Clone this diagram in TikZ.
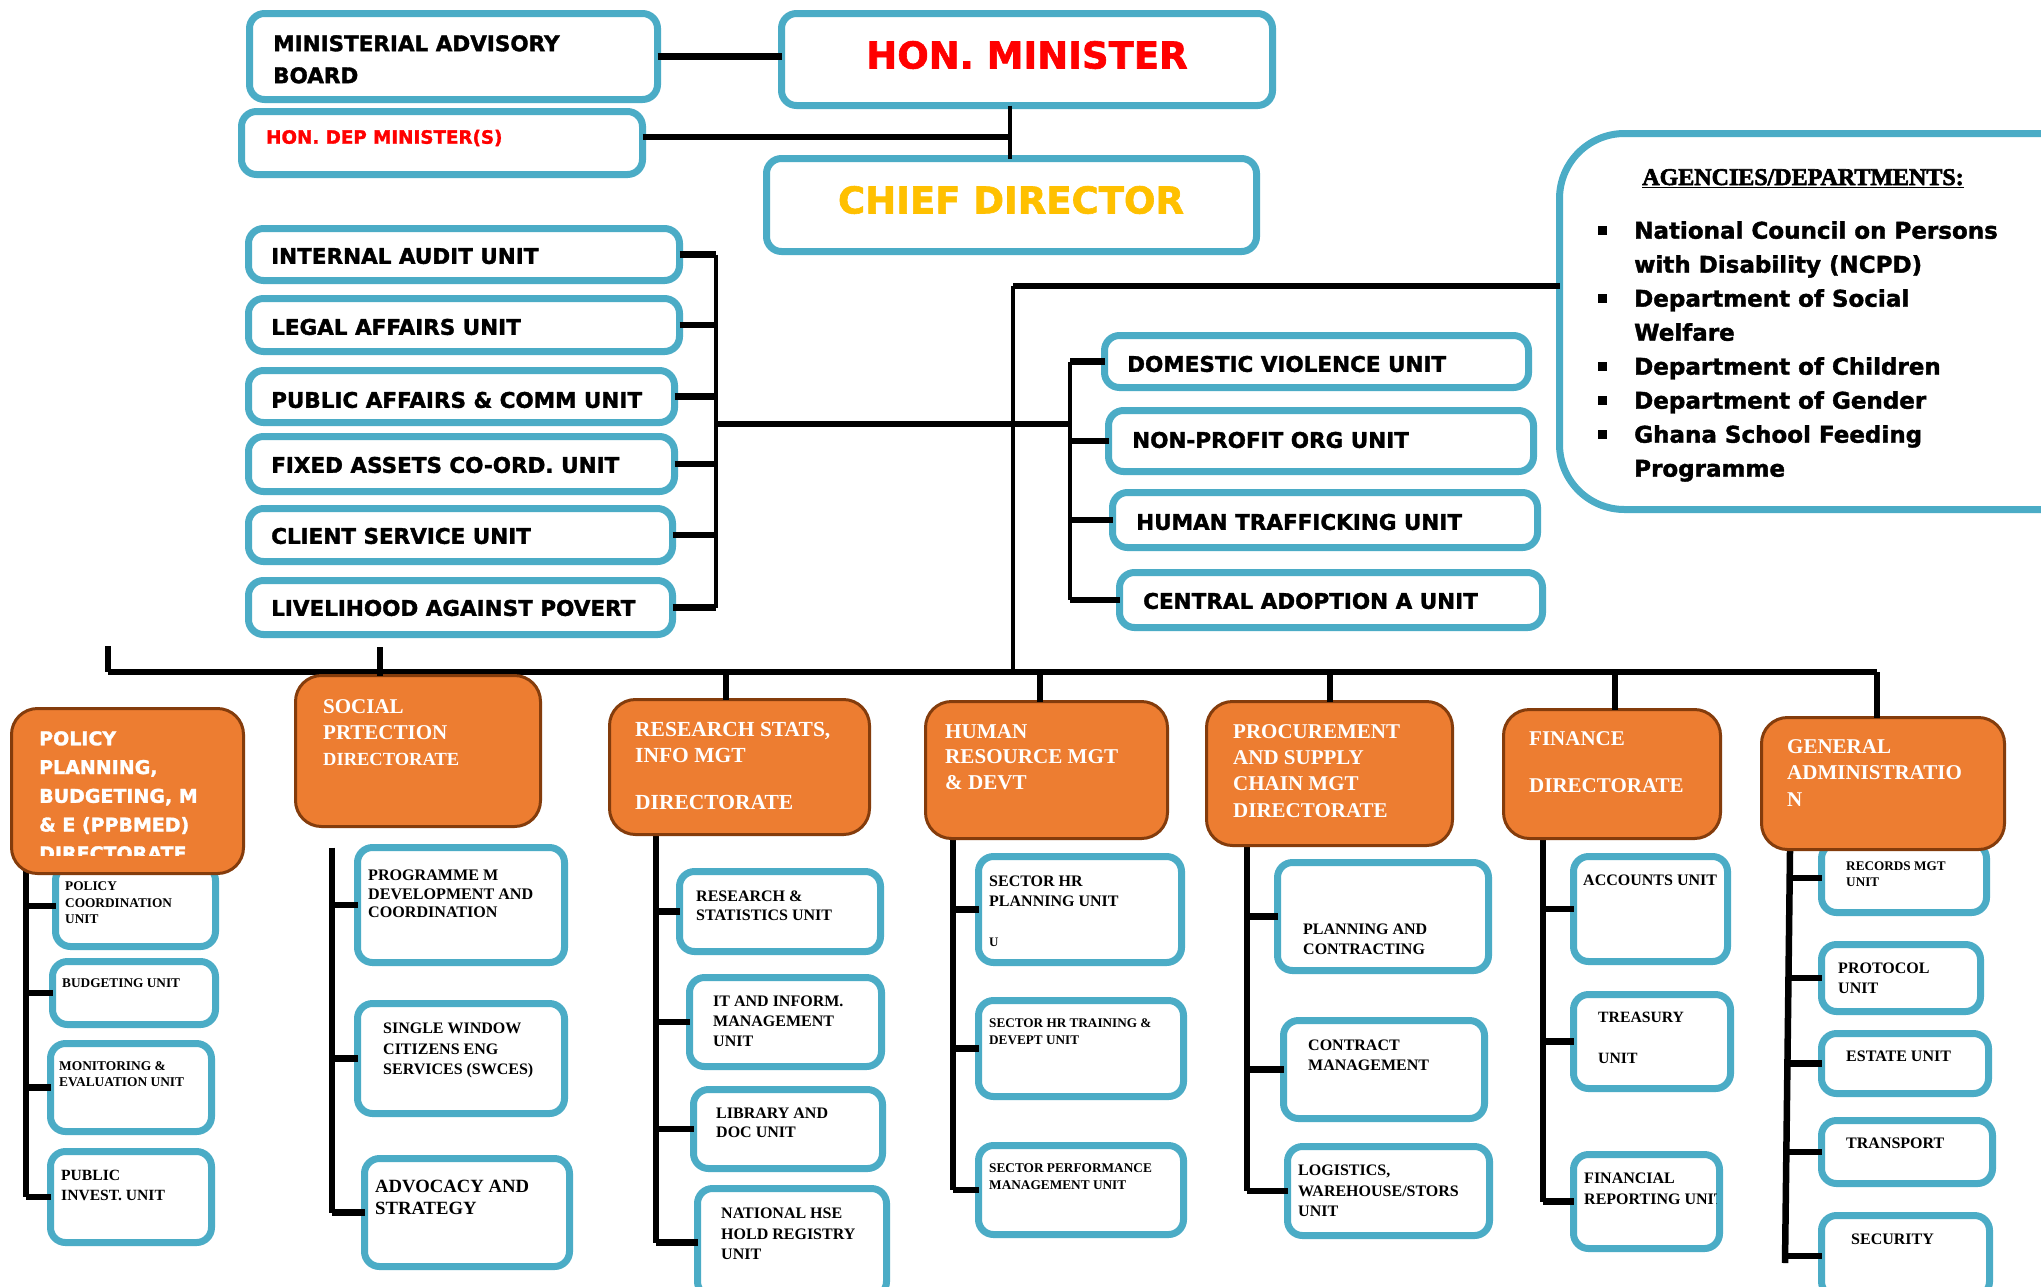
\documentclass[tikz,border=0pt]{standalone}
\usepackage{fontspec}
\setmainfont{Liberation Serif}
\newfontfamily\djb{DejaVu Sans Bold}[FakeBold=1.6]
\newfontfamily\serb{Liberation Serif Bold}[FakeBold=2.5]
\definecolor{cblue}{HTML}{4BACC6}
\definecolor{corg}{HTML}{ED7D31}
\definecolor{cbrn}{HTML}{843C0C}
\definecolor{cgold}{HTML}{FFC000}
\newcommand\fsz[2]{\fontsize{#1}{#2}\selectfont}
\newcommand\ubx[5]{\node[ubox,minimum width={#4-#2-7},minimum height={#5-#3-7},anchor=north west] (#1) at ({#2+3.5},{#3+3.5}) {};}
\newcommand\obx[5]{\node[obox,minimum width={#4-#2-3},minimum height={#5-#3-3},anchor=north west] (#1) at ({#2+1.5},{#3+1.5}) {};}
\newcommand\bul{\leavevmode\llap{\rule[4pt]{9pt}{9pt}\hspace{27pt}}}
\begin{document}
\begin{tikzpicture}[x=1pt,y=-1pt,
 ubox/.style={draw=cblue,line width=7pt,rounded corners=15pt,fill=white,inner sep=0pt,outer sep=0pt},
 obox/.style={draw=cbrn,line width=3pt,rounded corners=26pt,fill=corg,inner sep=0pt,outer sep=0pt},
 ln/.style={line width=6.5pt,black},
 ln2/.style={line width=4.5pt,black},
 tx/.style={anchor=north west,inner sep=0pt,align=left},
 bt/.style={anchor=base west,inner sep=0pt},
 hv/.style={bt,font=\djb\fsz{21.5}{26}},
 ot/.style={tx,text=white,font=\bfseries\fsz{21}{26}},
 ut/.style={tx,font=\bfseries\fsz{16}{20}}]
\useasboundingbox (0,0) rectangle (2041,1286);
\clip (0,0) rectangle (2041,1286);
\fill[white] (0,0) rectangle (2041,1286);

% ---------- boxes (top) ----------
\ubx{mab}{246}{10}{661}{103}
\ubx{hm}{778}{10}{1276}{109}
\ubx{dep}{238}{108}{646}{178}
\ubx{cd}{763}{155}{1260}{255}
% left units
\ubx{iau}{245}{225}{683}{284}
\ubx{lau}{245}{295}{683}{355}
\ubx{pac}{245}{367}{678}{426}
\ubx{fac}{245}{433}{678}{495}
\ubx{csu}{245}{505}{676}{565}
\ubx{lhp}{245}{577}{676}{638}
% right units
\ubx{dvu}{1101}{332}{1532}{391}
\ubx{npo}{1105}{407}{1537}{475}
\ubx{htu}{1109}{489}{1541}{551}
\ubx{cau}{1116}{569}{1546}{631}
% agencies
\node[ubox,rounded corners=65pt,anchor=north west,minimum width=560,minimum height=376] (ag) at (1559.5,133.5) {};

% ---------- connectors ----------
\coordinate (jm) at (1010,137);
\draw[ln] (mab.east) -- (mab.east -| hm.west);
\draw[ln] (dep.east |- jm) -- (jm);
\draw[ln2] (jm |- hm.south) -- (jm |- cd.north);

\coordinate (lb) at (716,0);
\foreach \b in {iau,lau,pac,fac,csu,lhp} \draw[ln] (\b.east) -- (\b.east -| lb);
\draw[ln2] (iau.east -| lb) -- (lhp.east -| lb);
\coordinate (rb) at (1070,0);
\foreach \b in {dvu,npo,htu,cau} \draw[ln] (\b.west) -- (\b.west -| rb);
\draw[ln2] (dvu.west -| rb) -- (cau.west -| rb);
\coordinate (hj) at (0,424);
\draw[ln] (lb |- hj) -- (rb |- hj);

\coordinate (ct) at (1013,286);
\coordinate (cb) at (1013,672);
\draw[ln2] (ct) -- (cb);
\draw[ln] (ct) -- (ct -| ag.west);

% ---------- lower boxes ----------
\ubx{pcu}{52}{862}{219}{950}
\ubx{bgu}{49}{958}{219}{1028}
\ubx{meu}{47}{1040}{215}{1135}
\ubx{piu}{47}{1148}{215}{1246}
\ubx{pmd}{354}{844}{568}{966}
\ubx{swc}{354}{1000}{568}{1117}
\ubx{ads}{361}{1155}{573}{1270}
\ubx{rsu}{676}{868}{884}{955}
\ubx{itm}{686}{974}{885}{1070}
\ubx{ldu}{690}{1086}{886}{1172}
\ubx{nhr}{694}{1185}{890}{1300}
\ubx{shp}{975}{853}{1185}{966}
\ubx{sht}{975}{997}{1187}{1100}
\ubx{spm}{975}{1142}{1187}{1238}
\ubx{plc}{1274}{859}{1492}{974}
\ubx{cmg}{1280}{1017}{1488}{1122}
\ubx{lws}{1284}{1143}{1493}{1239}
\ubx{acu}{1570}{853}{1731}{965}
\ubx{tru}{1570}{991}{1734}{1092}
\ubx{fru}{1570}{1151}{1723}{1252}
\ubx{rmu}{1818}{840}{1990}{916}
\ubx{ptu}{1818}{941}{1984}{1015}
\ubx{esu}{1818}{1030}{1992}{1097}
\ubx{tsp}{1818}{1117}{1996}{1187}
\ubx{scu}{1818}{1212}{1993}{1300}

% bus and columns
\coordinate (busL) at (108,672);
\coordinate (busR) at (1877,672);
\coordinate (busLt) at (108,646);
\coordinate (sx) at (380,647);
\coordinate (dr) at (726,672);
\coordinate (dh) at (1040,672);
\coordinate (dp) at (1330,672);
\coordinate (df) at (1615,672);
\draw[ln] (busL) -- (busR);
\draw[ln] (busLt) -- (busL);

\coordinate (c1) at (26,0);
\coordinate (c2) at (332,0);
\coordinate (c3) at (656,0);
\coordinate (c4) at (953,0);
\coordinate (c5) at (1247,0);
\coordinate (c6) at (1543,0);
\coordinate (c7) at (1788,0);
\coordinate (g1) at (1790,851);
\coordinate (g2) at (1785,1263);

\draw[ln] (c1 |- pcu.north) -- (c1 |- piu.west);
\foreach \b in {pcu,bgu,meu,piu} \draw[ln] (c1 |- \b.west) -- (\b.west);
\draw[ln] (c2 |- pmd.north) -- (c2 |- ads.west);
\foreach \b in {pmd,swc,ads} \draw[ln] (c2 |- \b.west) -- (\b.west);
\draw[ln] (c3 |- rsu.north) ++(0,-40) -- (c3 |- nhr.west);
\foreach \b in {rsu,itm,ldu,nhr} \draw[ln] (c3 |- \b.west) -- (\b.west);
\draw[ln] (c4 |- shp.north) ++(0,-20) -- (c4 |- spm.west);
\foreach \b in {shp,sht,spm} \draw[ln] (c4 |- \b.west) -- (\b.west);
\draw[ln] (c5 |- plc.north) ++(0,-20) -- (c5 |- lws.west);
\foreach \b in {plc,cmg,lws} \draw[ln] (c5 |- \b.west) -- (\b.west);
\draw[ln] (c6 |- acu.north) ++(0,-20) -- (c6 |- fru.west);
\foreach \b in {acu,tru,fru} \draw[ln] (c6 |- \b.west) -- (\b.west);
\draw[ln] (g1) -- (g2);
\foreach \b in {rmu,ptu,esu,tsp,scu} \draw[ln] (c7 |- \b.west) -- (\b.west);

% orange directorates
\obx{ppd}{10}{707}{245}{875}
\obx{spt}{294}{674}{542}{828}
\obx{rsd}{608}{698}{871}{836}
\obx{hrd}{924}{700}{1169}{840}
\obx{psd}{1205}{700}{1454}{847}
\obx{fnd}{1502}{708}{1722}{840}
\obx{gad}{1760}{716}{2006}{851}

\draw[ln] (sx) -- (sx |- spt.north);
\draw[ln] (dr) -- (dr |- rsd.north);
\draw[ln] (dh) -- (dh |- hrd.north);
\draw[ln] (dp) -- (dp |- psd.north);
\draw[ln] (df) -- (df |- fnd.north);
\draw[ln] (busR) -- (busR |- gad.north);

% ---------- texts ----------
\node[tx,font=\djb\fsz{21.5}{32}] (t-mab) at (273,35) {MINISTERIAL ADVISORY\\BOARD};
\node[anchor=center,inner sep=0pt,text=red,font=\djb\fsz{37}{40}] (t-hm) at (1027,55) {HON. MINISTER};
\node[bt,text=red,font=\djb\fsz{18.3}{22}] (t-dep) at (266,143.7) {HON. DEP MINISTER(S)};
\node[anchor=center,inner sep=0pt,text=cgold,font=\djb\fsz{37}{40}] (t-cd) at (1011,200) {CHIEF DIRECTOR};

\node[hv] (t-iau) at (271,263.8) {INTERNAL AUDIT UNIT};
\node[hv] (t-lau) at (271,334.8) {LEGAL AFFAIRS UNIT};
\node[hv] (t-pac) at (271,407.8) {PUBLIC AFFAIRS \& COMM UNIT};
\node[hv] (t-fac) at (271,472.8) {FIXED ASSETS CO-ORD. UNIT};
\node[hv] (t-csu) at (271,543.8) {CLIENT SERVICE UNIT};
\node[hv] (t-lhp) at (271,615.8) {LIVELIHOOD AGAINST POVERT};

\node[hv] (t-dvu) at (1127,371.8) {DOMESTIC VIOLENCE UNIT};
\node[hv] (t-npo) at (1132,447.8) {NON-PROFIT ORG UNIT};
\node[hv] (t-htu) at (1136,529.8) {HUMAN TRAFFICKING UNIT};
\node[hv] (t-cau) at (1143,608.8) {CENTRAL ADOPTION A UNIT};

\node[anchor=base,inner sep=0pt,font=\serb\fsz{24}{28}] (t-agt) at (1803,185) {\underline{AGENCIES/DEPARTMENTS:}};
\node[tx,font=\djb\fsz{23}{34}] (t-agl) at (1634,221) {\bul National Council on Persons\\with Disability (NCPD)\\\bul Department of Social\\Welfare\\\bul Department of Children\\\bul Department of Gender\\\bul Ghana School Feeding\\Programme};

\begin{scope}
\clip (0,700) rectangle (300,855);
\node[tx,text=white,font=\djb\fsz{19}{28.75}] (t-ppd) at (39,731) {POLICY\\PLANNING,\\BUDGETING, M\\\& E (PPBMED)\\DIRECTORATE};
\end{scope}
\node[ot] (t-spt) at (323,699) {SOCIAL\\PRTECTION\\\fsz{18.5}{24}DIRECTORATE};
\node[ot,font=\bfseries\fsz{21.5}{26}] (t-rsd) at (635,722) {RESEARCH STATS,\\INFO MGT\\[21pt]DIRECTORATE};
\node[ot,font=\bfseries\fsz{21.1}{25.5}] (t-hrd) at (945,724) {HUMAN\\RESOURCE MGT\\\& DEVT};
\node[ot,font=\bfseries\fsz{21}{26.3}] (t-psd) at (1233,724) {PROCUREMENT\\AND SUPPLY\\CHAIN MGT\\DIRECTORATE};
\node[ot] (t-fnd) at (1529,731) {FINANCE\\[21pt]DIRECTORATE};
\node[ot,font=\bfseries\fsz{21}{26.5}] (t-gad) at (1787,739) {GENERAL\\ADMINISTRATIO\\N};

\node[ut,font=\bfseries\fsz{13.3}{16.5}] (t-pcu) at (65,881.6) {POLICY\\COORDINATION\\UNIT};
\node[ut,font=\bfseries\fsz{13.3}{16}] (t-bgu) at (62,978.6) {BUDGETING UNIT};
\node[ut,font=\bfseries\fsz{13.4}{16}] (t-meu) at (59,1061.6) {MONITORING \&\\EVALUATION UNIT};
\node[ut,font=\bfseries\fsz{15.6}{20}] (t-piu) at (61,1169.8) {PUBLIC\\INVEST. UNIT};
\node[ut,font=\bfseries\fsz{16.1}{18.5}] (t-pmd) at (368,869.7) {PROGRAMME M\\DEVELOPMENT AND\\COORDINATION};
\node[ut,font=\bfseries\fsz{16}{20.5}] (t-swc) at (383,1022.7) {SINGLE WINDOW\\CITIZENS ENG\\SERVICES (SWCES)};
\node[ut,font=\bfseries\fsz{18.7}{22}] (t-ads) at (375,1179.8) {ADVOCACY AND\\STRATEGY};
\node[ut,font=\bfseries\fsz{16}{19}] (t-rsu) at (696,890.7) {RESEARCH \&\\STATISTICS UNIT};
\node[ut] (t-itm) at (713,995.7) {IT AND INFORM.\\MANAGEMENT\\UNIT};
\node[ut,font=\bfseries\fsz{16}{19}] (t-ldu) at (716,1107.7) {LIBRARY AND\\DOC UNIT};
\node[ut,font=\bfseries\fsz{16}{20.5}] (t-nhr) at (721,1207.7) {NATIONAL HSE\\HOLD REGISTRY\\UNIT};
\node[ut] (t-shp) at (989,875.7) {SECTOR HR\\PLANNING UNIT};
\node[bt,font=\bfseries\fsz{13}{14}] (t-shu) at (989,946) {U};
\node[ut,font=\bfseries\fsz{13.2}{17}] (t-sht) at (989,1018.6) {SECTOR HR TRAINING \&\\DEVEPT UNIT};
\node[ut,font=\bfseries\fsz{13.3}{17}] (t-spm) at (989,1163.6) {SECTOR PERFORMANCE\\MANAGEMENT UNIT};
\node[ut] (t-plc) at (1303,923.7) {PLANNING AND\\CONTRACTING};
\node[ut] (t-cmg) at (1308,1039.7) {CONTRACT\\MANAGEMENT};
\node[ut,font=\bfseries\fsz{16}{20.5}] (t-lws) at (1298,1164.7) {LOGISTICS,\\WAREHOUSE/STORS\\UNIT};
\node[ut] (t-acu) at (1583,874.7) {ACCOUNTS UNIT};
\node[ut,font=\bfseries\fsz{15.7}{41}] (t-tru) at (1598,1011.8) {TREASURY\\UNIT};
\begin{scope}
\clip (1500,1150) rectangle (1716,1260);
\node[ut,font=\bfseries\fsz{16}{21}] (t-fru) at (1584,1172.7) {FINANCIAL\\REPORTING UNIT};
\end{scope}
\node[ut,font=\bfseries\fsz{13.2}{15.5}] (t-rmu) at (1846,861.6) {RECORDS MGT\\UNIT};
\node[ut] (t-ptu) at (1838,962.7) {PROTOCOL\\UNIT};
\node[ut] (t-esu) at (1846,1050.7) {ESTATE UNIT};
\node[ut] (t-tsp) at (1846,1137.7) {TRANSPORT};
\node[ut] (t-scu) at (1851,1233.7) {SECURITY};
\end{tikzpicture}
\end{document}
